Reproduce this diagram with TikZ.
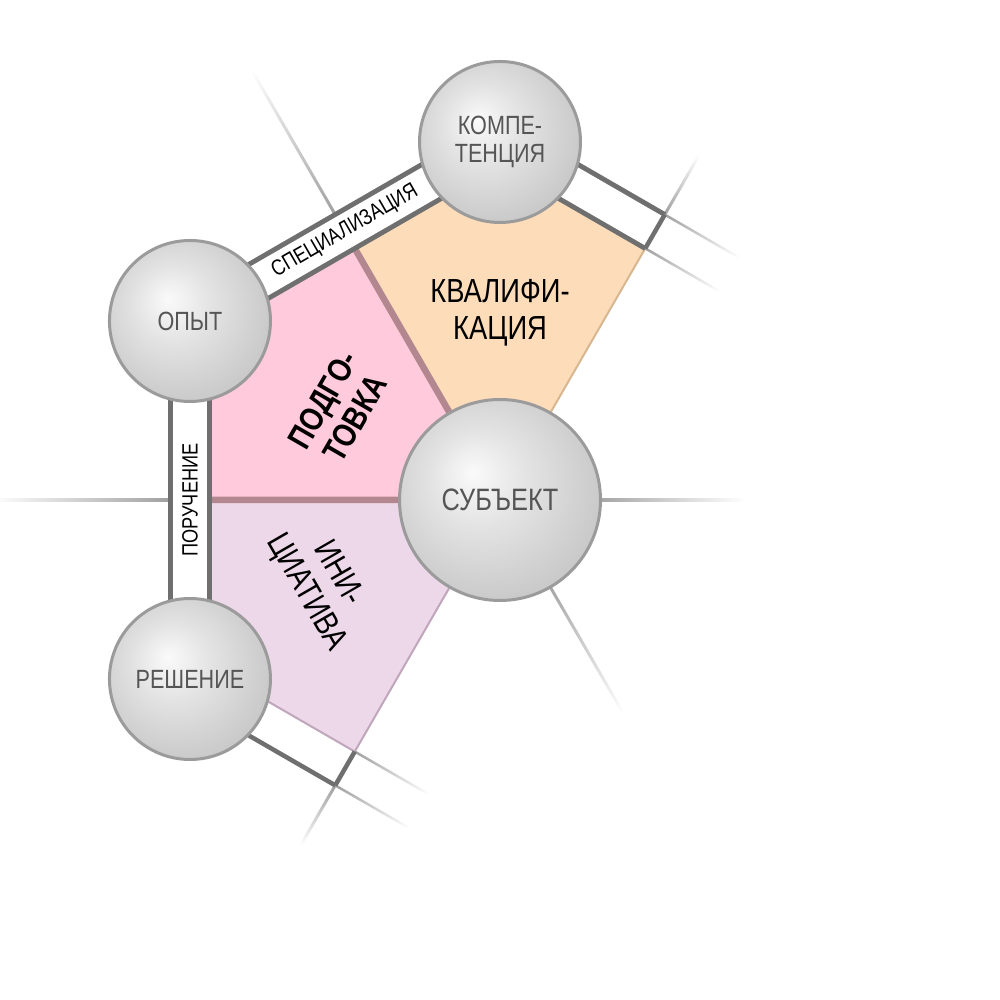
\documentclass[tikz,border=0pt]{standalone}
\usepackage{fontspec}
\setmainfont{Liberation Sans}[FakeStretch=0.82]
\usepackage{tikz}
\usetikzlibrary{calc}
\usetikzlibrary{backgrounds}
\definecolor{bandgray}{HTML}{6F6F6F}
\definecolor{ringgray}{HTML}{9B9B9B}
\definecolor{labelgray}{HTML}{555555}
\definecolor{fadegray}{HTML}{A0A0A0}
\definecolor{podgpink}{HTML}{FFCADB}
\definecolor{kvalorange}{HTML}{FDDCBA}
\definecolor{initlilac}{HTML}{EDD8E9}
\definecolor{mauve}{HTML}{B3878F}
\definecolor{tanedge}{HTML}{D8B690}
\definecolor{lilacedge}{HTML}{BFA6BB}
\pgfdeclareradialshading{sphere}{\pgfpoint{-7bp}{7bp}}{color(0bp)=(black!2); color(12bp)=(black!11); color(25bp)=(black!19); color(35bp)=(black!25); color(50bp)=(black!25)}
\tikzstyle{ball}=[circle, draw=ringgray, line width=0.03cm, shade, shading=sphere, text=labelgray, align=center, font=\fontsize{7.5}{8}\selectfont, minimum size=1.61cm]
\tikzstyle{field}=[align=center, font=\fontsize{9.5}{10.5}\selectfont]
\tikzstyle{band}=[draw=bandgray, line width=0.05cm, double=white, double distance=0.34cm]
\tikzstyle{bandline}=[draw=bandgray, line width=0.045cm]
\tikzstyle{bandtext}=[midway, sloped, font=\fontsize{6.3}{7}\selectfont]

\begin{document}
\begin{tikzpicture}[inner sep=0cm]
\useasboundingbox (-5,-5) rectangle (5,5);

\node (subj) [ball, minimum size=2.01cm, font=\fontsize{8.8}{10}\selectfont] at (0,0) {СУБЪЕКТ};
\node (komp) [ball] at (90:3.58) {КОМПЕ-\\ТЕНЦИЯ};
\node (opyt) [ball] at (150:3.58) {ОПЫТ};
\node (resh) [ball] at (210:3.58) {РЕШЕНИЕ};

\node (kval) [field] at (90:1.87) {КВАЛИФИ-\\КАЦИЯ};
\node (podg) [field, font=\fontsize{9.5}{10.5}\selectfont\bfseries, rotate=60] at (150.5:1.85) {ПОДГО-\\ТОВКА};
\node (init) [field, rotate=-60] at (205:1.97) {ИНИ-\\ЦИАТИВА};

% corner points of the three fields
\foreach \a in {60,120,180,240} {
  \coordinate (in\a) at (\a:2.905);
  \coordinate (out\a) at (\a:3.295);
  \coordinate (mid\a) at (\a:3.1);
}
\foreach \a in {90,150,210}
  \coordinate (c\a) at (\a:3.354);

\begin{scope}[on background layer]
  \fill[kvalorange] (subj.center) -- (in60) -- (c90) -- (in120) -- cycle;
  \fill[podgpink] (subj.center) -- (in120) -- (c150) -- (in180) -- cycle;
  \fill[initlilac] (subj.center) -- (in180) -- (c210) -- (in240) -- cycle;
  \draw[tanedge, line width=0.02cm] (subj.center) -- (in60);
  \draw[lilacedge, line width=0.02cm] (subj.center) -- (in240) -- (c210);
  \draw[mauve, line width=0.065cm] (in120) -- (subj.center) -- (in180);
  % fading rays
  \foreach \a/\r/\l in {0/0.9/2.45, 300/0.9/2.47, 60/3.3/3.98, 120/3.3/4.98, 180/3.3/5.1, 240/3.3/3.99} {
    \begin{scope}[transform canvas={rotate=\a}]
      \shade[left color=fadegray, right color=white] (\r,-0.015) rectangle (\l,0.015);
    \end{scope}
  }
  \begin{scope}[transform canvas={rotate=-30}]
    \foreach \y in {3.295,2.905,-2.905,-3.295}
      \shade[left color=fadegray, right color=white] (0,\y-0.0125) rectangle (0.86,\y+0.0125);
  \end{scope}
  % bands
  \draw[band] (opyt.center) -- node[bandtext] {СПЕЦИАЛИЗАЦИЯ} (komp.center);
  \draw[band] (resh.center) -- node[bandtext] {ПОРУЧЕНИЕ} (opyt.center);
  \draw[band] (komp.center) -- (mid60);
  \draw[bandline] ($(resh.center)+(240:0.195)$) -- (out240);
  \draw[bandline] (in60) -- (out60);
  \draw[bandline] (in240) -- (out240);
\end{scope}
\end{tikzpicture}
\end{document}
